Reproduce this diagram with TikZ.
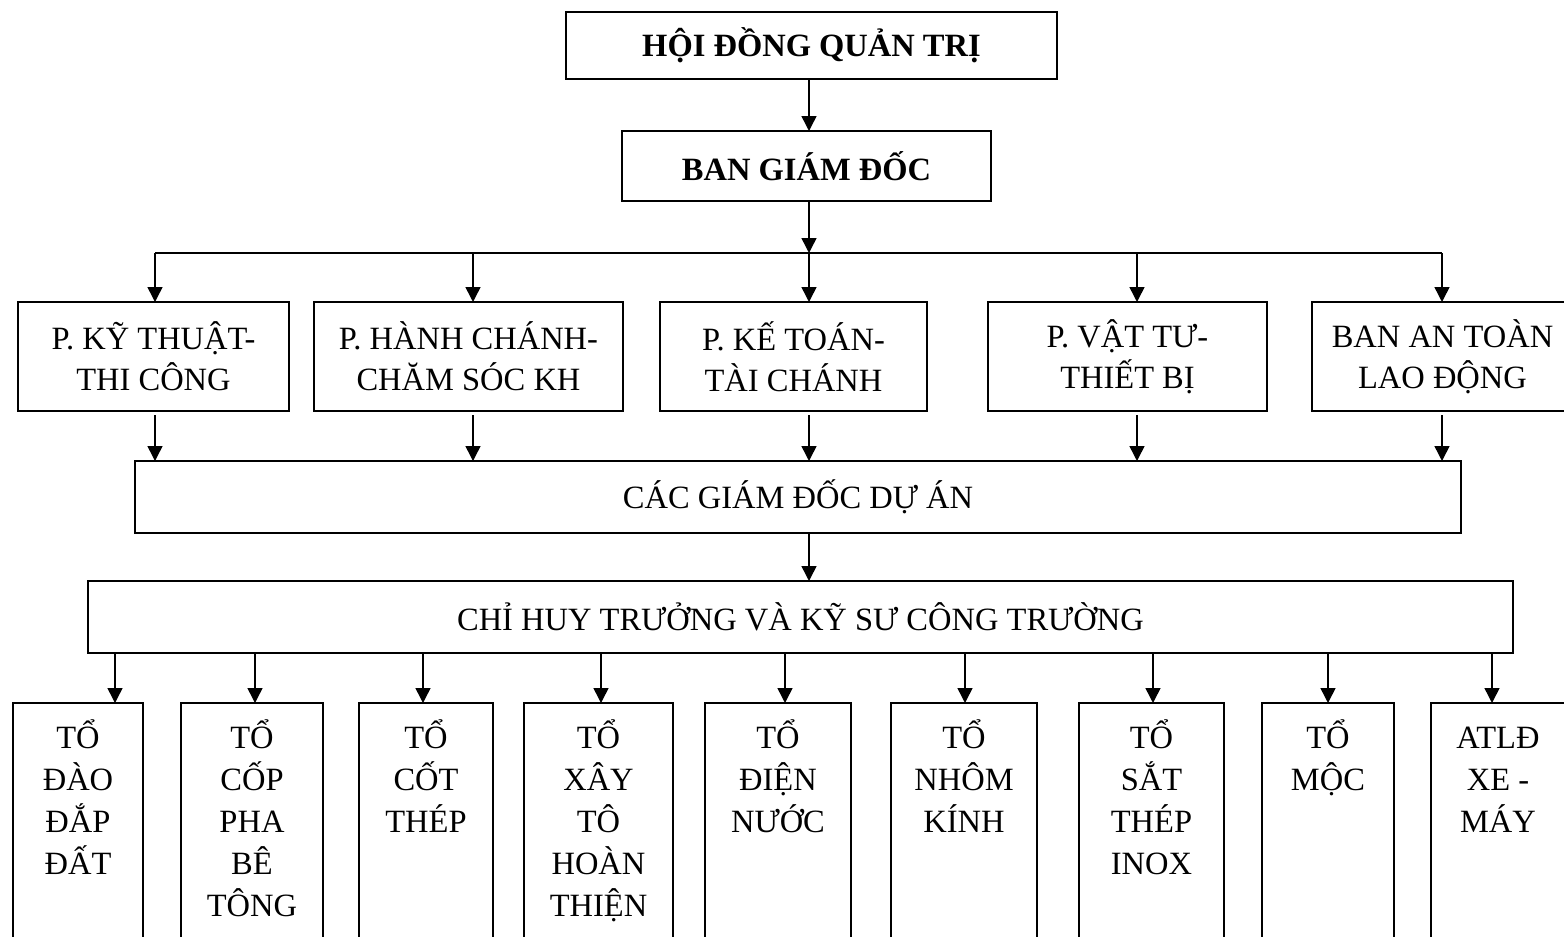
\documentclass[tikz,border=0pt]{standalone}
\usepackage{fontspec}
\setmainfont{Liberation Serif}
\usetikzlibrary{arrows.meta,calc}
\tikzset{
  ln/.style={line width=1.5pt},
  arr/.style={line width=1.5pt,-{Triangle[length=15pt,width=15pt]}},
  bx/.style={draw,line width=1.5pt,inner sep=0pt,outer sep=0pt},
  txt/.style={inner sep=0pt,align=center,font=\fontsize{32.5}{41}\selectfont},
  btxt/.style={inner sep=0pt,align=center,anchor=north,font=\fontsize{32.5}{42}\selectfont},
}
\newcommand{\topstrut}{\rule{0pt}{34pt}}
\begin{document}
\begin{tikzpicture}[x=1pt,y=-1pt]
\useasboundingbox (0,0) rectangle (1564,937);
% top
\node[bx,minimum width=491pt,minimum height=67pt,font=\fontsize{32.5}{41}\selectfont\bfseries] (hdqt) at (811.5,45.5) {HỘI ĐỒNG QUẢN TRỊ};
\node[bx,minimum width=369pt,minimum height=70pt,font=\fontsize{32.5}{41}\selectfont\bfseries] (bgd) at (806.5,166) {BAN GIÁM ĐỐC};
% row 2
\node[bx,minimum width=271pt,minimum height=109pt] (kt) at (153.5,356.5) {};
\node[txt] (ktt) at (kt.center) {P. KỸ THUẬT-\\THI CÔNG};
\node[bx,minimum width=309pt,minimum height=109pt] (hc) at (468.5,356.5) {};
\node[txt] (hct) at (hc.center) {P. HÀNH CHÁNH-\\CHĂM SÓC KH};
\node[bx,minimum width=267pt,minimum height=109pt] (kto) at (793.5,356.5) {};
\node[txt] (ktot) at (kto.center) {P. KẾ TOÁN-\\TÀI CHÁNH};
\node[bx,minimum width=279pt,minimum height=109pt] (vt) at (1127.5,356.5) {};
\node[txt] (vtt) at (vt.center) {P. VẬT TƯ-\\THIẾT BỊ};
\node[bx,minimum width=253pt,minimum height=109pt] (bat) at (1438.5,356.5) {};
\node[txt] (batt) at ([xshift=4pt]bat.center) {BAN AN TOÀN\\LAO ĐỘNG};
% row 3, 4
\node[bx,minimum width=1326pt,minimum height=72pt,font=\fontsize{32.5}{41}\selectfont] (cgd) at (798,497) {CÁC GIÁM ĐỐC DỰ ÁN};
\node[bx,minimum width=1425pt,minimum height=72pt,font=\fontsize{32.5}{41}\selectfont] (cht) at (800.5,617) {CHỈ HUY TRƯỞNG VÀ KỸ SƯ CÔNG TRƯỜNG};
% bottom boxes
\node[bx,minimum width=130pt,minimum height=242pt] (b1) at (78,824) {};
\node[bx,minimum width=142pt,minimum height=242pt] (b2) at (252,824) {};
\node[bx,minimum width=134pt,minimum height=242pt] (b3) at (426,824) {};
\node[bx,minimum width=149pt,minimum height=242pt] (b4) at (598.5,824) {};
\node[bx,minimum width=146pt,minimum height=242pt] (b5) at (778,824) {};
\node[bx,minimum width=146pt,minimum height=242pt] (b6) at (964,824) {};
\node[bx,minimum width=145pt,minimum height=242pt] (b7) at (1151.5,824) {};
\node[bx,minimum width=132pt,minimum height=242pt] (b8) at (1328,824) {};
\node[bx,minimum width=134pt,minimum height=242pt] (b9) at (1498,824) {};
\node[btxt] (b1t) at ($(b1.north)+(0,11)$) {\topstrut TỔ\\ĐÀO\\ĐẮP\\ĐẤT};
\node[btxt] (b2t) at ($(b2.north)+(0,11)$) {\topstrut TỔ\\CỐP\\PHA\\BÊ\\TÔNG};
\node[btxt] (b3t) at ($(b3.north)+(0,11)$) {\topstrut TỔ\\CỐT\\THÉP};
\node[btxt] (b4t) at ($(b4.north)+(0,11)$) {\topstrut TỔ\\XÂY\\TÔ\\HOÀN\\THIỆN};
\node[btxt] (b5t) at ($(b5.north)+(0,11)$) {\topstrut TỔ\\ĐIỆN\\NƯỚC};
\node[btxt] (b6t) at ($(b6.north)+(0,11)$) {\topstrut TỔ\\NHÔM\\KÍNH};
\node[btxt] (b7t) at ($(b7.north)+(0,11)$) {\topstrut TỔ\\SẮT\\THÉP\\INOX};
\node[btxt] (b8t) at ($(b8.north)+(0,11)$) {\topstrut TỔ\\MỘC};
\node[btxt] (b9t) at ($(b9.north)+(0,11)$) {\topstrut ATLĐ\\XE -\\MÁY};
% coordinates
\coordinate (t1) at (155,253);
\coordinate (t2) at (473,253);
\coordinate (t3) at (809,253);
\coordinate (t4) at (1137,253);
\coordinate (t5) at (1442,253);
\coordinate (u1) at (115,653);
\coordinate (u2) at (255,653);
\coordinate (u3) at (423,653);
\coordinate (u4) at (601,653);
\coordinate (u5) at (785,653);
\coordinate (u6) at (965,653);
\coordinate (u7) at (1153,653);
\coordinate (u8) at (1328,653);
\coordinate (u9) at (1492,653);
% connectors
\draw[arr] (hdqt.south -| t3) -- (bgd.north -| t3);
\draw[arr] (bgd.south -| t3) -- (t3);
\draw[ln] (t1) -- (t5);
\foreach \t/\n in {t1/kt,t2/hc,t3/kto,t4/vt,t5/bat}{
  \draw[arr] (\t) -- (\t |- \n.north);
  \draw[arr] ($(\n.south -| \t)+(0,4)$) -- (\t |- cgd.north);
}
\draw[arr] (cgd.south -| t3) -- (cht.north -| t3);
\foreach \u/\n in {u1/b1,u2/b2,u3/b3,u4/b4,u5/b5,u6/b6,u7/b7,u8/b8,u9/b9}{
  \draw[arr] (\u) -- (\u |- \n.north);
}
\end{tikzpicture}
\end{document}
